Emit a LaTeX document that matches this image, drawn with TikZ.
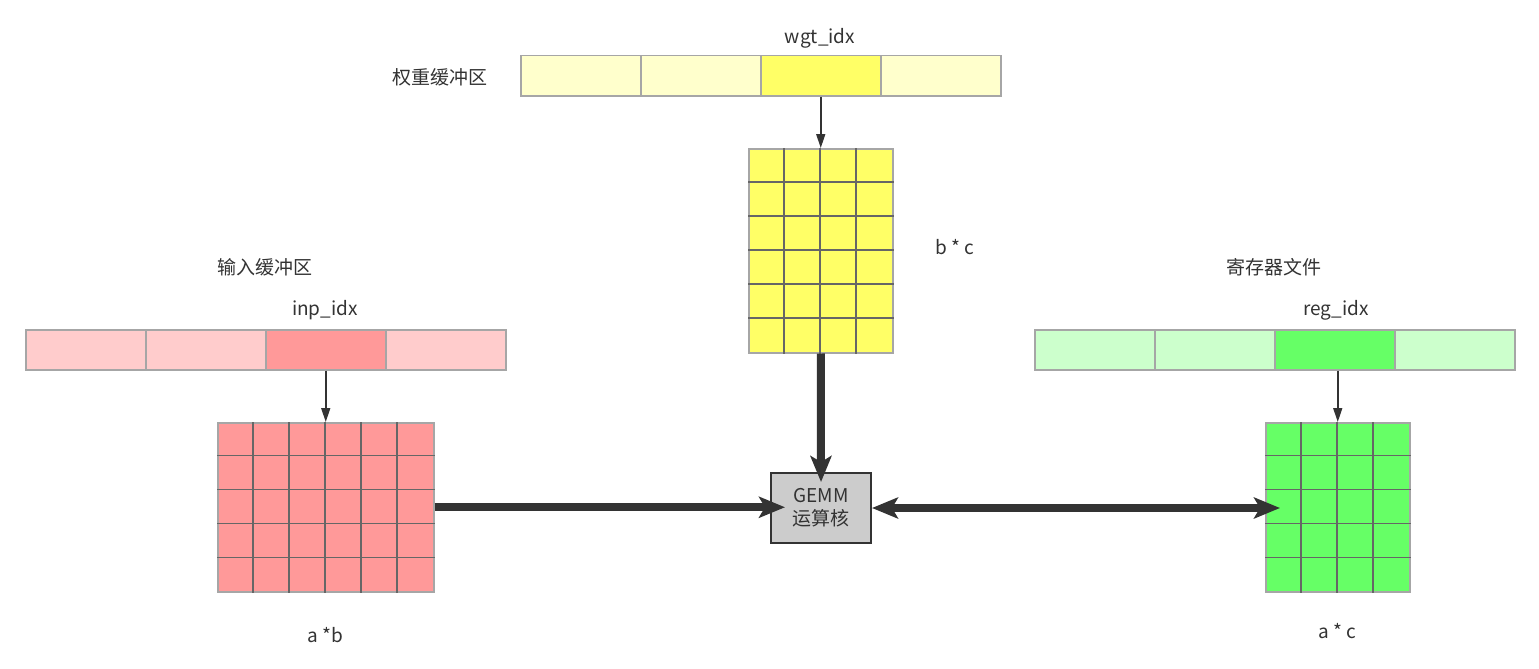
\documentclass[tikz,border=0pt]{standalone}
\usepackage{fontspec}
\setmainfont{Noto Sans CJK SC}
\usetikzlibrary{arrows.meta,calc}
\definecolor{ly}{HTML}{FFFFCC}
\definecolor{yy}{HTML}{FFFF66}
\definecolor{lr}{HTML}{FFCCCC}
\definecolor{rr}{HTML}{FF9999}
\definecolor{lg}{HTML}{CCFFCC}
\definecolor{gg}{HTML}{66FF66}
\definecolor{boxgray}{HTML}{CCCCCC}
\definecolor{dark}{HTML}{333333}
\definecolor{bordergray}{HTML}{A6A6A6}
\definecolor{gridgray}{HTML}{666666}
\begin{document}
\begin{tikzpicture}[x=1pt,y=-1pt,
  every node/.style={font=\fontsize{19}{23}\selectfont, text=dark},
  cell/.style={draw=bordergray, line width=1.5pt, minimum width=120pt, minimum height=40pt, inner sep=0pt, anchor=north west},
  mat/.style={draw=bordergray, line width=1.5pt, inner sep=0pt, anchor=north west},
  gridline/.style={draw=gridgray, line width=1.2pt},
  thinarrow/.style={draw=dark, line width=1.5pt, -{Triangle[length=14pt,width=9pt]}},
  fatarrow/.style={draw=dark, line width=8pt, -{Stealth[length=26pt,width=21pt,inset=6pt]}},
  gemmbox/.style={draw=dark, fill=boxgray, line width=2pt, minimum width=100pt, minimum height=70pt, inner sep=0pt, align=center, anchor=north west, font=\fontsize{19}{23}\selectfont}
]
\useasboundingbox (0,0) rectangle (1539,669);

% weight buffer
\node[cell, fill=ly] (wb1) at (520,55) {};
\node[cell, fill=ly] (wb2) at (640,55) {};
\node[cell, fill=yy] (wb3) at (760,55) {};
\node[cell, fill=ly] (wb4) at (880,55) {};
\node (wtitle) at (440,77) {权重缓冲区};
\node (widx) at (820,38) {wgt\_idx};

% input buffer
\node[cell, fill=lr] (ib1) at (25,329) {};
\node[cell, fill=lr] (ib2) at (145,329) {};
\node[cell, fill=rr] (ib3) at (265,329) {};
\node[cell, fill=lr] (ib4) at (385,329) {};
\node (ititle) at (265,267) {输入缓冲区};
\node (iidx) at (325,310) {inp\_idx};

% register buffer
\node[cell, fill=lg] (rb1) at (1034,329) {};
\node[cell, fill=lg] (rb2) at (1154,329) {};
\node[cell, fill=gg] (rb3) at (1274,329) {};
\node[cell, fill=lg] (rb4) at (1394,329) {};
\node (rtitle) at (1274,267) {寄存器文件};
\node (ridx) at (1336,310) {reg\_idx};

% weight matrix 4x6
\node[mat, fill=yy, minimum width=144pt, minimum height=204pt] (wm) at (748,148) {};
\foreach \i in {1,2,3} \draw[gridline] ($(wm.north west)+(\i*36,0)$) -- ($(wm.south west)+(\i*36,0)$);
\foreach \j in {1,...,5} \draw[gridline] ($(wm.north west)+(0,\j*34)$) -- ($(wm.north east)+(0,\j*34)$);
\node (wdim) at (955,247) {b * c};

% input matrix 6x5
\node[mat, fill=rr, minimum width=216pt, minimum height=169pt] (im) at (217,422) {};
\foreach \i in {1,...,5} \draw[gridline] ($(im.north west)+(\i*36,0)$) -- ($(im.south west)+(\i*36,0)$);
\foreach \j in {1,...,4} \draw[gridline] ($(im.north west)+(0,\j*33.8)$) -- ($(im.north east)+(0,\j*33.8)$);
\node (idim) at (325,635) {a *b};

% register matrix 4x5
\node[mat, fill=gg, minimum width=144pt, minimum height=169pt] (rm) at (1265,422) {};
\foreach \i in {1,2,3} \draw[gridline] ($(rm.north west)+(\i*36,0)$) -- ($(rm.south west)+(\i*36,0)$);
\foreach \j in {1,...,4} \draw[gridline] ($(rm.north west)+(0,\j*33.8)$) -- ($(rm.north east)+(0,\j*33.8)$);
\node (rdim) at (1337,631) {a * c};

% GEMM core
\node[gemmbox] (gemm) at (770,472) {GEMM\\运算核};

% thin arrows
\draw[thinarrow] (wb3.south) -- (wm.north);
\draw[thinarrow] (ib3.south) -- (im.north);
\draw[thinarrow] (rb3.south -| rm.north) -- (rm.north);

% thick arrows
\draw[fatarrow, shorten >=-10pt] (wm.south) -- (gemm.north);
\draw[fatarrow, shorten >=-15pt] (im.east) -- (im.east -| gemm.west);
\draw[fatarrow, {Stealth[length=26pt,width=21pt,inset=6pt]}-{Stealth[length=26pt,width=21pt,inset=6pt]}, shorten >=-15pt] (gemm.east) -- (gemm.east -| rm.west);
\end{tikzpicture}
\end{document}
